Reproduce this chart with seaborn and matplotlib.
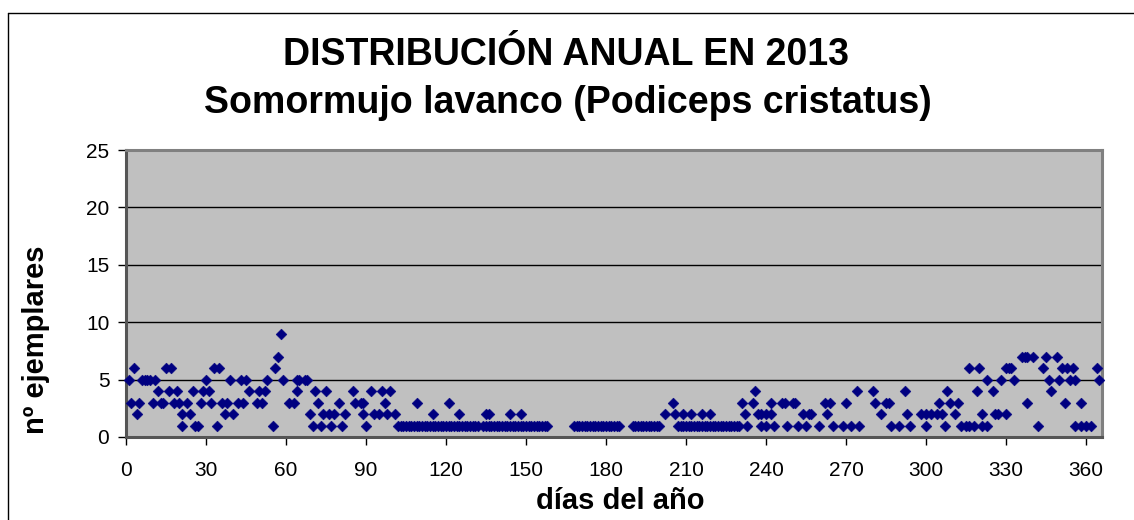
import matplotlib
matplotlib.use("Agg")
import matplotlib.pyplot as plt
import seaborn as sns
import pandas as pd
from matplotlib.lines import Line2D

# ---- data: day of year for each observed count ----
days_count_1 = [21, 26, 27, 34, 55, 70, 73, 77, 81, 90,
                102, 103, 104, 105, 106, 107, 108, 109, 110, 111, 112, 113, 114, 115, 116,
                117, 118, 119, 120, 121, 122, 123, 124, 125, 126, 127, 128, 129, 130, 131, 132,
                134, 135, 136, 137, 138, 139, 140, 141, 142, 143, 144, 145, 146, 147, 148,
                149, 150, 151, 152, 153, 154, 155, 156, 157, 158,
                168, 169, 170, 171, 172, 173, 174, 175, 176, 177, 178, 179, 180, 181, 182,
                183, 184, 185,
                190, 191, 192, 193, 194, 195, 196, 197, 198, 199, 200,
                207, 208, 209, 210, 211, 212, 213, 214, 215, 216, 217, 218, 219, 220, 221,
                222, 223, 224, 225, 226, 227, 228, 229, 230,
                233, 238, 240, 243, 248, 252, 255, 260, 265, 269, 272, 275, 287, 290, 294,
                300, 307, 313, 315, 316, 318, 321, 323, 342, 356, 358, 360, 362]
days_count_2 = [4, 21, 24, 37, 40, 69, 74, 76, 78, 82, 89, 93, 95, 98, 101, 115, 125,
                135, 136, 144, 148, 202, 206, 209, 212, 216, 219, 232, 237, 238, 240, 242,
                254, 256, 257, 263, 283, 293, 298, 300, 302, 304, 306, 311, 321, 326, 327, 330]
days_count_3 = [2, 5, 10, 13, 14, 18, 20, 23, 28, 32, 36, 38, 42, 44, 49, 51, 61, 63, 72,
                80, 86, 88, 89, 97, 109, 121, 205, 231, 235, 242, 246, 247, 250, 251, 262,
                264, 270, 281, 285, 286, 305, 309, 312, 338, 352, 358]
days_count_4 = [12, 16, 19, 25, 29, 31, 46, 50, 52, 64, 71, 75, 85, 92, 96, 99, 236, 274,
                280, 292, 308, 319, 325, 347]
days_count_5 = [1, 6, 7, 8, 9, 11, 30, 39, 43, 45, 53, 59, 64, 65, 67, 68, 323, 328, 333,
                346, 350, 354, 356, 365]
days_count_6 = [3, 15, 17, 33, 35, 56, 316, 320, 330, 331, 332, 344, 351, 353, 355, 364]
days_count_7 = [57, 336, 337, 338, 340, 345, 349]
days_count_9 = [58]

x_ticks = [0, 30, 60, 90, 120, 150, 180, 210, 240, 270, 300, 330, 360]
y_ticks = [0, 5, 10, 15, 20, 25]

title_1 = "DISTRIBUCIÓN ANUAL EN 2013"
title_2 = "Somormujo lavanco (Podiceps cristatus)"
x_label = "días del año"
y_label = "nº ejemplares"

groups = {1: days_count_1, 2: days_count_2, 3: days_count_3, 4: days_count_4,
          5: days_count_5, 6: days_count_6, 7: days_count_7, 9: days_count_9}
rows = [(d, n) for n, ds in groups.items() for d in ds]
df = pd.DataFrame(rows, columns=["dia", "ejemplares"])

sns.set_style("white")
plt.rcParams["font.family"] = ["Liberation Sans", "DejaVu Sans"]
plt.rcParams["text.color"] = "black"
plt.rcParams["axes.labelcolor"] = "black"
plt.rcParams["xtick.color"] = "black"
plt.rcParams["ytick.color"] = "black"

fig = plt.figure(figsize=(11.34, 5.2), dpi=100)
ax = fig.add_axes([126 / 1134, 1 - 437 / 520, 976 / 1134, 287 / 520])
ax.set_facecolor("#C0C0C0")
ax.set_axisbelow(True)

sns.scatterplot(data=df, x="dia", y="ejemplares", marker="D", s=30,
                color="#000080", edgecolor="#000080", linewidth=0.4,
                legend=False, ax=ax, zorder=3, clip_on=False)

ax.set_xlim(0, 366)
ax.set_ylim(0, 25)
ax.set_xticks(x_ticks)
ax.set_yticks(y_ticks)
ax.grid(axis="y", color="black", linewidth=1)
ax.grid(axis="x", visible=False)
ax.set_xlabel("")
ax.set_ylabel("")

ax.tick_params(axis="both", direction="out", length=6, width=1, color="black",
               labelsize=15, labelcolor="black", bottom=True, left=True)
ax.tick_params(axis="x", pad=11)
ax.tick_params(axis="y", pad=6)
for sp in ax.spines.values():
    sp.set_color("#808080")
    sp.set_linewidth(2.2)
ax.spines["left"].set_color("#555555")
ax.spines["bottom"].set_color("#555555")

fig.text(0.499, 1 - 65 / 520, title_1, ha="center", va="baseline",
         fontsize=27, fontweight="bold", color="black")
fig.text(0.501, 1 - 113 / 520, title_2, ha="center", va="baseline",
         fontsize=27, fontweight="bold", color="black")
fig.text(620 / 1134, 1 - 509 / 520, x_label, ha="center", va="baseline",
         fontsize=21, fontweight="bold", color="black")
fig.text(36 / 1134, 1 - 340 / 520, y_label, ha="center", va="center",
         rotation=90, fontsize=21, fontweight="bold", color="black")

# outer chart frame (left and top edges visible)
fig.add_artist(Line2D([8 / 1134, 8 / 1134], [0, 1 - 13 / 520], color="black", lw=1))
fig.add_artist(Line2D([8 / 1134, 1], [1 - 13 / 520, 1 - 13 / 520], color="black", lw=1))

fig.savefig("out.png", dpi=100)
